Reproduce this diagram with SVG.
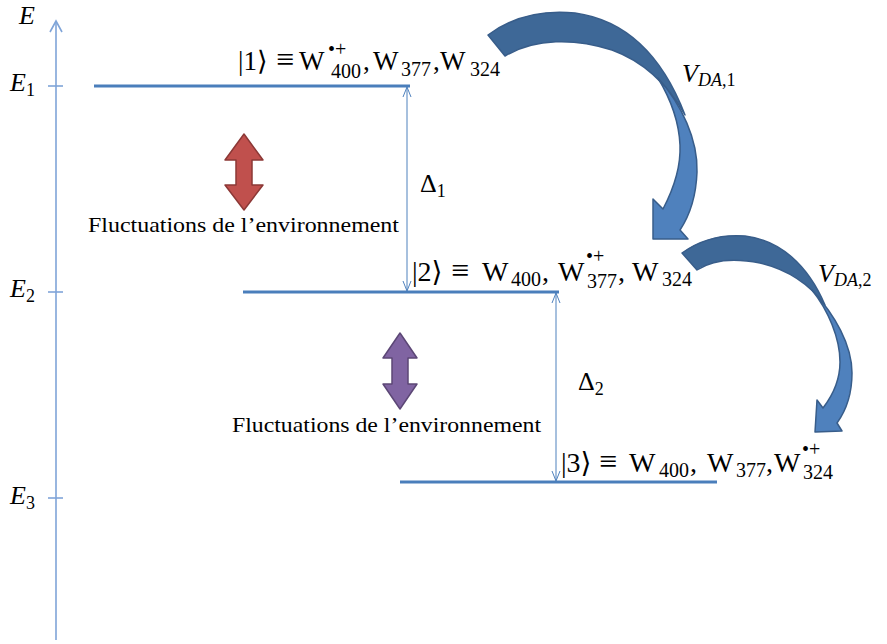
<svg xmlns="http://www.w3.org/2000/svg" width="887" height="644" viewBox="0 0 887 644">
<style>
text{font-family:'Liberation Serif','DejaVu Serif',serif;fill:#000}
.m1{font-size:27px}
.m{font-size:28px}
.s{font-size:20px}
.p{font-size:20px}
.eq{font-size:32px}
.i{font-style:italic}
.lvl{stroke:#4a7ebb;stroke-width:3;fill:none}
.ax{stroke:#7fa4d8;stroke-width:1.6;fill:none}
.gap{stroke:#4f81bd;stroke-width:1;fill:none;marker-start:url(#oa);marker-end:url(#oa)}
.fl{font-size:21px}
.back{fill:#3e6897;stroke:#385d8a;stroke-width:1.5;stroke-linejoin:round}
.front{fill:#4f81bd;stroke:#385d8a;stroke-width:1.5;stroke-linejoin:round}
</style>
<defs>
<marker id="oa" viewBox="0 0 10 10" refX="10" refY="5" markerWidth="10" markerHeight="10" markerUnits="userSpaceOnUse" orient="auto-start-reverse">
<path d="M0,1 L10,5 L0,9" fill="none" stroke="#4f81bd" stroke-width="1"/>
</marker>
</defs>
<g id="axis">
<line class="ax" x1="56" y1="640" x2="56" y2="22"/>
<path class="ax" d="M50,32 L56,21 L62,32"/>
<line class="ax" x1="48" y1="86" x2="63" y2="86"/>
<line class="ax" x1="48" y1="292" x2="63" y2="292"/>
<line class="ax" x1="48" y1="498" x2="63" y2="498"/>
<text class="i" x="19" y="24" font-size="26">E</text>
<text x="10" y="91"><tspan class="i" font-size="26">E</tspan><tspan font-size="18" dy="5">1</tspan></text>
<text x="10" y="297"><tspan class="i" font-size="26">E</tspan><tspan font-size="18" dy="5">2</tspan></text>
<text x="10" y="504"><tspan class="i" font-size="26">E</tspan><tspan font-size="18" dy="5">3</tspan></text>
</g>
<g id="level1">
<line class="lvl" x1="94" y1="86" x2="410" y2="86"/>
<text class="m1" y="70"><tspan x="238">|1⟩</tspan><tspan class="eq" x="276">≡</tspan><tspan x="299">W</tspan><tspan class="p" x="328" y="56">•+</tspan><tspan class="s" x="331" y="78">400</tspan><tspan x="363" y="70">,</tspan><tspan x="373">W</tspan><tspan class="s" x="401" y="76">377</tspan><tspan x="433" y="70">,</tspan><tspan x="440">W</tspan><tspan class="s" x="470" y="76">324</tspan></text>
</g>
<g id="level2">
<line class="lvl" x1="243" y1="292" x2="559" y2="292"/>
<text class="m" y="281"><tspan x="412">|2⟩</tspan><tspan class="eq" x="451">≡</tspan><tspan x="482">W</tspan><tspan class="s" x="511" y="286">400</tspan><tspan x="542" y="281">,</tspan><tspan x="558">W</tspan><tspan class="p" x="586" y="263">•+</tspan><tspan class="s" x="587" y="288">377</tspan><tspan x="618" y="281">,</tspan><tspan x="632">W</tspan><tspan class="s" x="662" y="286">324</tspan></text>
</g>
<g id="level3">
<line class="lvl" x1="400" y1="482" x2="717" y2="482"/>
<text class="m" y="472"><tspan x="561">|3⟩</tspan><tspan class="eq" x="599">≡</tspan><tspan x="629">W</tspan><tspan class="s" x="659" y="477">400</tspan><tspan x="690" y="472">,</tspan><tspan x="707">W</tspan><tspan class="s" x="736" y="477">377</tspan><tspan x="766" y="472">,</tspan><tspan x="774">W</tspan><tspan class="p" x="802" y="456">•+</tspan><tspan class="s" x="803" y="479">324</tspan></text>
</g>
<g id="fluct1">
<path d="M244,134 L263,160 L252,160 L252,185 L263,185 L244,210 L225,185 L236,185 L236,160 L225,160 Z" fill="#c0504d" stroke="#8c3836" stroke-width="1.5" stroke-linejoin="round"/>
<text class="fl" x="88" y="232" textLength="311" lengthAdjust="spacingAndGlyphs">Fluctuations de l’environnement</text>
</g>
<g id="fluct2">
<path d="M400,333 L417,358 L408,358 L408,384 L417,384 L400,409 L383,384 L392,384 L392,358 L383,358 Z" fill="#8064a2" stroke="#5c4776" stroke-width="1.5" stroke-linejoin="round"/>
<text class="fl" x="232" y="432" textLength="309" lengthAdjust="spacingAndGlyphs">Fluctuations de l’environnement</text>
</g>
<g id="transfer1">
<path class="back" d="M488,35 C515,15 545,10 575,13 C625,20 662,55 685,115 C668,85 645,62 612,50 C575,38 535,38 505,56 Z"/>
<path class="front" d="M658,78 C682,105 698,140 697,172 C696,200 688,218 680,230 L688,239 L653,239 L653,199 L663,209 C673,190 681,168 680,145 C679,122 670,98 658,78 Z"/>
<text x="682" y="82"><tspan class="i" font-size="26">V</tspan><tspan class="i" font-size="18" dy="4">DA</tspan><tspan font-size="18">,1</tspan></text>
</g>
<g id="transfer2">
<path class="back" d="M682,253 C700,240 720,234 745,236 C780,240 808,265 825,305 C810,285 790,270 760,263 C735,258 712,260 697,270 Z"/>
<path class="front" d="M812,290 C835,315 852,345 852,373 C852,395 845,412 837,423 L842,431 L815,432 L817,400 L823,408 C833,395 840,380 840,362 C840,338 828,310 812,290 Z"/>
<text x="818" y="282"><tspan class="i" font-size="26">V</tspan><tspan class="i" font-size="18" dy="4">DA</tspan><tspan font-size="18">,2</tspan></text>
</g>
<g id="connectors">
<line class="gap" x1="407" y1="87" x2="407" y2="291"/>
<line class="gap" x1="556" y1="293" x2="556" y2="481"/>
<text x="420" y="192"><tspan font-size="26">Δ</tspan><tspan font-size="18" dy="5">1</tspan></text>
<text x="578" y="390"><tspan font-size="26">Δ</tspan><tspan font-size="18" dy="5">2</tspan></text>
</g>
</svg>
